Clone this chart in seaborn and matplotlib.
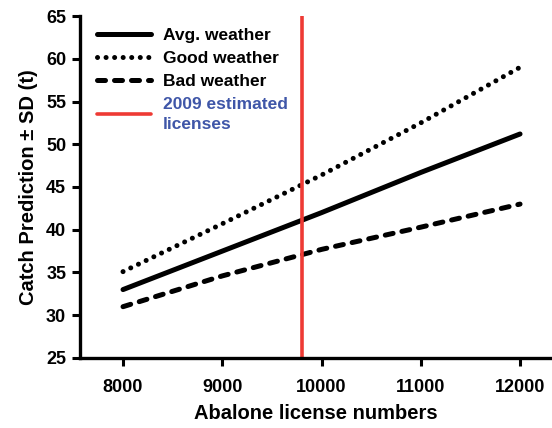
import matplotlib
matplotlib.use("Agg")
import matplotlib.pyplot as plt
import seaborn as sns
import pandas as pd

# Predicted catch (t) under three weather scenarios vs. number of licenses
licenses = [8000, 9000, 10000, 11000, 12000]
avg_weather = [33.0, 37.5, 42.0, 46.7, 51.2]
good_weather = [35.1, 40.7, 46.4, 52.5, 59.0]
bad_weather = [31.0, 34.6, 37.7, 40.3, 43.0]
licenses_2009 = 9800

x_ticks = [8000, 9000, 10000, 11000, 12000]
y_ticks = [25, 30, 35, 40, 45, 50, 55, 60, 65]

sns.set_theme(style="ticks")
plt.rcParams["font.family"] = ["Liberation Sans", "DejaVu Sans"]
plt.rcParams["font.weight"] = "bold"
plt.rcParams["text.color"] = "black"
plt.rcParams["axes.labelcolor"] = "black"

fig = plt.figure(figsize=(5.52, 4.28), dpi=100)
ax = fig.add_axes([0.145, 0.1636, 0.855, 0.799])

df = pd.DataFrame({
    "licenses": licenses * 3,
    "catch": avg_weather + good_weather + bad_weather,
    "scenario": ["Avg. weather"] * 5 + ["Good weather"] * 5 + ["Bad weather"] * 5,
})

styles = {
    "Avg. weather": dict(linestyle="-"),
    "Good weather": dict(linestyle=(0, (0.01, 1.7)), dash_capstyle="round"),
    "Bad weather": dict(linestyle=(0, (1.6, 1.8)), dash_capstyle="round"),
}
handles = []
for name in ["Avg. weather", "Good weather", "Bad weather"]:
    sub = df[df["scenario"] == name]
    sns.lineplot(data=sub, x="licenses", y="catch", ax=ax, color="black",
                 linewidth=3.6, solid_capstyle="round", **styles[name])
    handles.append(ax.lines[-1])
    handles[-1].set_label(name)

vline = ax.axvline(licenses_2009, color="#ee3a34", linewidth=2.6,
                   label="2009 estimated\nlicenses")
handles.append(vline)

ax.set_xlim(7567, 12322)
ax.set_ylim(25, 65)
ax.set_xticks(x_ticks)
ax.set_yticks(y_ticks)
ax.set_xticklabels([str(v) for v in x_ticks], fontsize=13, fontweight="bold")
ax.set_yticklabels([str(v) for v in y_ticks], fontsize=13, fontweight="bold")
ax.set_xlabel("Abalone license numbers", fontsize=14.5, fontweight="bold", labelpad=6)
ax.set_ylabel("Catch Prediction \u00b1 SD (t)", fontsize=14.5, fontweight="bold", labelpad=6)

for s in ["top", "right"]:
    ax.spines[s].set_visible(False)
for s in ["left", "bottom"]:
    ax.spines[s].set_linewidth(2.4)
    ax.spines[s].set_color("black")
ax.tick_params(axis="both", direction="out", length=6, width=2.2, color="black",
               pad=4, labelcolor="black")
ax.tick_params(axis="x", pad=9)

leg = ax.legend(handles=handles, loc="upper left", bbox_to_anchor=(0.01, 1.0),
                frameon=False, handlelength=3.1, handletextpad=0.7,
                labelspacing=0.45, prop=dict(size=12.5, weight="bold"),
                borderaxespad=0.3)
for t in leg.get_texts():
    t.set_color("black")
    t.set_linespacing(1.4)
leg.get_texts()[-1].set_color("#3f56a8")

fig.savefig("out.png", dpi=100)
